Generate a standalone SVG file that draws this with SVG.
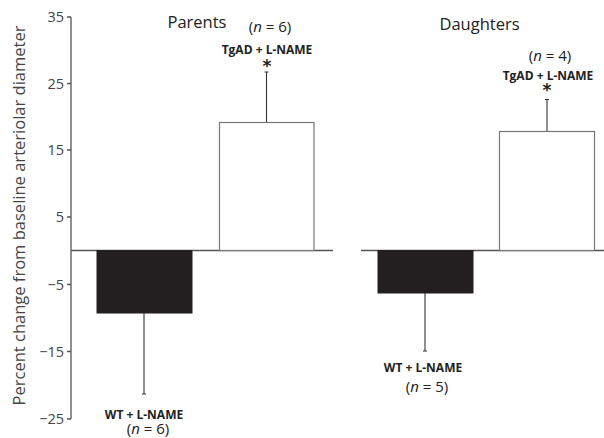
<svg xmlns="http://www.w3.org/2000/svg" width="604" height="438" viewBox="0 0 604 438">
<style>
.ax{stroke:#555;stroke-width:1.3;fill:none}
.tk{font-family:"Open Sans","Noto Sans",sans-serif;font-size:14.5px;fill:#444;text-anchor:end}
.ttl{font-family:"Open Sans","Noto Sans",sans-serif;font-size:16.5px;fill:#222;text-anchor:middle}
.yl{font-family:"Open Sans","Noto Sans",sans-serif;font-size:16.5px;fill:#444;text-anchor:middle}
.lb{font-family:"Open Sans","Noto Sans",sans-serif;font-size:12px;font-weight:bold;fill:#222;text-anchor:middle}
.n{font-family:"Open Sans","Noto Sans",sans-serif;font-size:15px;fill:#222;text-anchor:middle}
.blk{fill:#231f20;stroke:#231f20;stroke-width:1}
.wht{fill:#fff;stroke:#777;stroke-width:1.2}
.eb{stroke:#333;stroke-width:1.1;fill:none}
.ast{font-family:"DejaVu Sans",sans-serif;font-size:17px;font-weight:bold;fill:#222}
</style>
<rect width="604" height="438" fill="#fff"/>
<g id="axis">
<path class="ax" d="M71,17V419M67,17H71M67,83.5H71M67,150H71M67,217H71M67,284.5H71M67,351.5H71M67,419H71"/>
<path class="ax" d="M71,250.5H333M361,250.5H604"/>
<text class="tk" x="64" y="22">35</text>
<text class="tk" x="64" y="88.5">25</text>
<text class="tk" x="64" y="155">15</text>
<text class="tk" x="64" y="222">5</text>
<text class="tk" x="64" y="289.5">−5</text>
<text class="tk" x="64" y="356.5">−15</text>
<text class="tk" x="64" y="424">−25</text>
<text class="yl" transform="translate(25,215.5) rotate(-90)" textLength="380" lengthAdjust="spacingAndGlyphs">Percent change from baseline arteriolar diameter</text>
</g>
<g id="parents">
<text class="ttl" x="197" y="28">Parents</text>
</g>
<g id="daughters">
<text class="ttl" x="479.5" y="30">Daughters</text>
</g>
<g id="connectors">
<path class="eb" d="M144,313V394M142,394H146"/>
<path class="eb" d="M266.5,122.5V72M264.5,72H268.5"/>
<path class="eb" d="M425,293V351M423,351H427"/>
<path class="eb" d="M547,131.5V99.5M545,99.5H549"/>
</g>
<g id="parents-wt">
<rect class="blk" x="97" y="250.5" width="95" height="62.5"/>
<text class="lb" x="144" y="419">WT + L-NAME<tspan class="n" font-weight="normal" x="148" dy="15">(<tspan font-style="italic">n</tspan> = 6)</tspan></text>
</g>
<g id="parents-tgad">
<rect class="wht" x="219.5" y="122.5" width="94.5" height="128"/>
<text class="lb" x="267" y="53.5">TgAD + L-NAME<tspan class="ast" x="267" dy="18">*</tspan></text>
<text class="n" x="270" y="32">(<tspan font-style="italic">n</tspan> = 6)</text>
</g>
<g id="daughters-wt">
<rect class="blk" x="378" y="250.5" width="95" height="42.5"/>
<text class="lb" x="423" y="372">WT + L-NAME</text>
<text class="n" x="427" y="392">(<tspan font-style="italic">n</tspan> = 5)</text>
</g>
<g id="daughters-tgad">
<rect class="wht" x="499.5" y="131.5" width="95" height="119"/>
<text class="lb" x="548" y="79.5">TgAD + L-NAME<tspan class="ast" x="547" dy="16">*</tspan></text>
<text class="n" x="550" y="60.5">(<tspan font-style="italic">n</tspan> = 4)</text>
</g>
</svg>
